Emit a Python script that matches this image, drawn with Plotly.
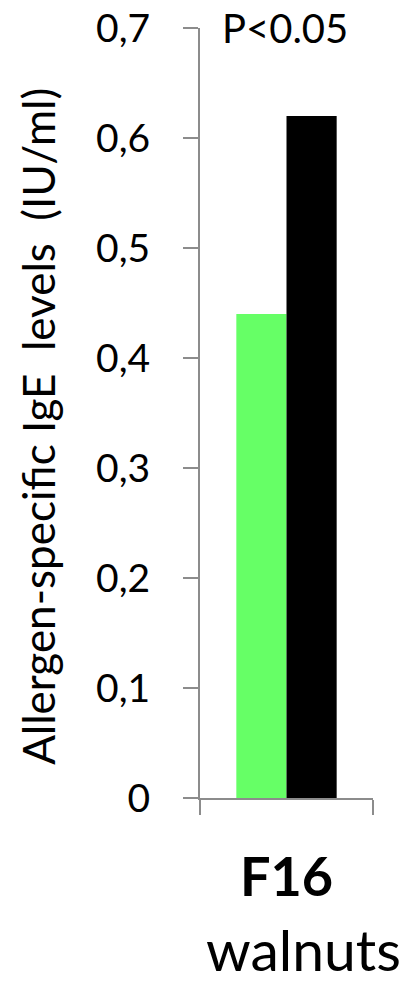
import plotly.graph_objects as go

# Allergen-specific IgE for walnuts (F16), two groups
categories = ["F16"]
group_a_values = [0.44]
group_b_values = [0.62]
y_tick_vals = [0, 0.1, 0.2, 0.3, 0.4, 0.5, 0.6, 0.7]
y_tick_text = ["0", "0,1", "0,2", "0,3", "0,4", "0,5", "0,6", "0,7"]
x_tick_text = ["<b>F16</b>"]
subtitle = "walnuts"
p_label = "P<0.05"
y_title = "Allergen-specific IgE&nbsp; levels&nbsp; (IU/ml)"

FONT = "Lato"
AXIS_GREY = "#8c8c8c"

fig = go.Figure()
fig.add_trace(go.Bar(x=categories, y=group_a_values, marker=dict(color="#66ff66", line_width=0)))
fig.add_trace(go.Bar(x=categories, y=group_b_values, marker=dict(color="#000000", line_width=0)))

fig.update_layout(
    width=413,
    height=983,
    margin=dict(l=200, r=40, t=28, b=185),
    paper_bgcolor="white",
    plot_bgcolor="white",
    showlegend=False,
    barmode="group",
    bargap=0.42,
    bargroupgap=0,
    font=dict(family=FONT, color="black"),
)

fig.update_yaxes(
    range=[0, 0.7],
    tickvals=y_tick_vals,
    ticktext=y_tick_text,
    tickfont=dict(size=39, family=FONT),
    ticks="outside",
    ticklen=15,
    tickwidth=2,
    tickcolor=AXIS_GREY,
    showline=True,
    linecolor=AXIS_GREY,
    linewidth=2,
    showgrid=False,
    zeroline=False,
    ticklabelstandoff=25,
    automargin=False,
)

fig.update_xaxes(
    tickvals=categories,
    ticktext=x_tick_text,
    tickfont=dict(size=54, family=FONT),
    tickson="boundaries",
    ticks="outside",
    ticklen=15,
    tickwidth=2,
    tickcolor=AXIS_GREY,
    showline=True,
    linecolor=AXIS_GREY,
    linewidth=2,
    showgrid=False,
    range=[-0.5, 0.5],
    ticklabelstandoff=31,
    automargin=False,
)

fig.add_annotation(
    text=y_title, textangle=-90, xref="paper", yref="paper",
    x=-190 / 173, y=0.482, xanchor="left", yanchor="middle",
    showarrow=False, font=dict(size=44, family=FONT),
)
fig.add_annotation(
    text=p_label, xref="paper", yref="paper", x=0.49, y=1.0,
    xanchor="center", yanchor="middle", showarrow=False,
    font=dict(size=40, family=FONT),
)
fig.add_annotation(
    text=subtitle, xref="paper", yref="paper", x=0.60, y=-0.15,
    xanchor="center", yanchor="top", showarrow=False,
    font=dict(size=57, family=FONT),
)

fig.write_html("out.html")
